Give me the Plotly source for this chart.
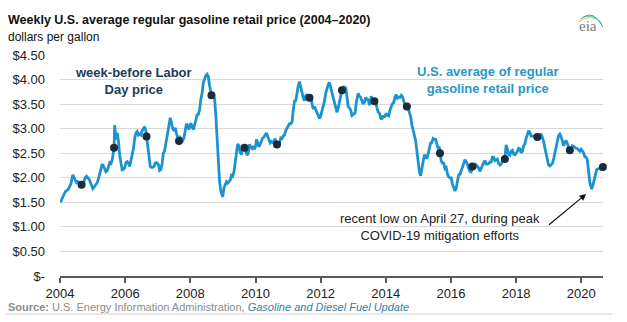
import plotly.graph_objects as go
import pandas as pd

# ---- data: weekly U.S. regular gasoline retail price, $/gal ----
gas_2004 = [("01-05",1.50),("01-19",1.57),("02-02",1.61),("02-16",1.66),("03-01",1.72),("03-15",1.74),
            ("04-01",1.76),("04-15",1.81),("05-03",1.88),("05-17",2.01),("05-24",2.06),("06-07",2.00),
            ("06-21",1.93),("07-05",1.90),("07-19",1.92),("08-02",1.89),("08-16",1.87),("09-13",1.86),
            ("09-27",1.93),("10-11",2.01),("10-25",2.03),("11-08",2.00),("11-22",1.97),("12-06",1.91),("12-20",1.83)]
gas_2005 = [("01-03",1.78),("01-17",1.81),("02-07",1.88),("02-21",1.90),("03-07",1.98),("03-21",2.09),
            ("04-04",2.22),("04-18",2.28),("05-02",2.24),("05-16",2.17),("05-30",2.12),("06-13",2.14),
            ("06-27",2.24),("07-11",2.31),("07-25",2.29),("08-08",2.36),("08-22",2.52),("09-05",3.07),
            ("09-12",2.96),("09-19",2.79),("09-26",2.80),("10-03",2.92),("10-17",2.75),("10-31",2.46),
            ("11-14",2.30),("11-28",2.16),("12-12",2.17),("12-26",2.20)]
gas_2006 = [("01-09",2.31),("01-23",2.33),("02-06",2.30),("02-20",2.23),("03-06",2.35),("03-20",2.46),
            ("04-03",2.59),("04-17",2.80),("05-01",2.91),("05-15",2.94),("05-29",2.87),("06-12",2.89),
            ("06-26",2.87),("07-10",2.96),("07-24",3.00),("08-07",3.04),("08-21",2.95),("09-11",2.60),
            ("09-25",2.38),("10-09",2.23),("10-23",2.21),("11-06",2.21),("11-20",2.23),("12-04",2.30),("12-18",2.31)]
gas_2007 = [("01-08",2.27),("01-22",2.15),("02-05",2.17),("02-19",2.29),("03-05",2.50),("03-19",2.55),
            ("04-02",2.71),("04-16",2.87),("04-30",2.97),("05-14",3.10),("05-21",3.22),("06-04",3.12),
            ("06-18",3.00),("07-02",2.96),("07-16",3.02),("07-30",2.90),("08-13",2.80),("09-10",2.82),
            ("09-24",2.79),("10-08",2.76),("10-22",2.82),("11-05",3.00),("11-19",3.10),("12-03",3.06),("12-17",2.98)]
gas_2008 = [("01-07",3.11),("01-21",3.02),("02-04",2.98),("02-18",3.07),("03-03",3.17),("03-17",3.28),
            ("03-31",3.29),("04-14",3.39),("04-28",3.60),("05-12",3.72),("05-26",3.94),("06-09",4.04),
            ("06-23",4.08),("07-07",4.11),("07-21",4.06),("08-04",3.88),("08-18",3.73),("09-08",3.67),
            ("09-29",3.62),("10-13",3.27),("10-27",2.71),("11-10",2.22),("11-24",1.92),("12-08",1.73),("12-29",1.61)]
gas_2009 = [("01-12",1.79),("01-26",1.86),("02-09",1.92),("02-23",1.89),("03-09",1.93),("03-23",1.95),
            ("04-06",2.05),("04-20",2.03),("05-04",2.12),("05-18",2.35),("06-01",2.51),("06-15",2.69),
            ("06-29",2.65),("07-13",2.52),("07-27",2.47),("08-10",2.65),("08-24",2.62),("09-14",2.54),
            ("09-28",2.46),("10-12",2.50),("10-26",2.68),("11-09",2.63),("11-23",2.60),("12-07",2.64),("12-21",2.58)]
gas_2010 = [("01-04",2.66),("01-11",2.78),("01-25",2.72),("02-08",2.63),("02-22",2.68),("03-08",2.75),
            ("03-22",2.81),("04-05",2.83),("04-19",2.86),("05-03",2.91),("05-17",2.85),("05-31",2.76),
            ("06-14",2.71),("06-28",2.74),("07-12",2.72),("07-26",2.74),("08-09",2.80),("08-23",2.70),
            ("09-13",2.71),("09-27",2.70),("10-11",2.81),("10-25",2.80),("11-08",2.85),("11-22",2.87),
            ("12-06",2.96),("12-20",3.01)]
gas_2011 = [("01-03",3.06),("01-17",3.10),("01-31",3.10),("02-14",3.13),("02-28",3.37),("03-14",3.56),
            ("03-28",3.57),("04-11",3.77),("04-25",3.87),("05-09",3.96),("05-23",3.82),("06-06",3.74),
            ("06-20",3.63),("07-04",3.57),("07-18",3.67),("08-01",3.70),("08-15",3.59),("09-12",3.66),
            ("09-26",3.51),("10-10",3.40),("10-24",3.45),("11-07",3.39),("11-21",3.31),("12-05",3.27),("12-19",3.21)]
gas_2012 = [("01-02",3.26),("01-16",3.37),("01-30",3.43),("02-13",3.56),("02-27",3.72),("03-12",3.83),
            ("03-26",3.90),("04-09",3.94),("04-23",3.84),("05-07",3.76),("05-21",3.67),("06-04",3.56),
            ("06-18",3.45),("07-02",3.33),("07-16",3.42),("07-30",3.54),("08-13",3.70),("09-10",3.84),
            ("09-17",3.87),("10-01",3.79),("10-08",3.85),("10-22",3.66),("11-05",3.45),("11-19",3.42),
            ("12-03",3.38),("12-17",3.27)]
gas_2013 = [("01-07",3.30),("01-21",3.32),("02-04",3.53),("02-18",3.70),("02-25",3.72),("03-11",3.66),
            ("03-25",3.64),("04-08",3.57),("04-22",3.50),("05-06",3.54),("05-20",3.63),("06-03",3.60),
            ("06-17",3.59),("07-01",3.48),("07-15",3.64),("07-22",3.66),("08-05",3.59),("08-19",3.53),
            ("09-09",3.56),("09-23",3.43),("10-07",3.34),("10-21",3.32),("11-04",3.22),("11-18",3.19),
            ("12-02",3.27),("12-16",3.23)]
gas_2014 = [("01-06",3.31),("01-20",3.27),("02-03",3.26),("02-17",3.38),("03-03",3.44),("03-17",3.51),
            ("03-31",3.53),("04-14",3.65),("04-28",3.69),("05-12",3.62),("05-26",3.64),("06-09",3.64),
            ("06-23",3.68),("07-07",3.65),("07-21",3.56),("08-04",3.50),("08-18",3.43),("09-08",3.43),
            ("09-22",3.33),("10-06",3.25),("10-20",3.08),("11-03",2.97),("11-17",2.84),("12-01",2.76),
            ("12-15",2.55),("12-29",2.30)]
gas_2015 = [("01-12",2.13),("01-26",2.04),("02-09",2.18),("02-23",2.31),("03-09",2.47),("03-23",2.42),
            ("04-06",2.39),("04-20",2.48),("05-04",2.63),("05-18",2.71),("06-01",2.72),("06-15",2.80),
            ("06-29",2.78),("07-13",2.78),("07-27",2.69),("08-10",2.61),("08-24",2.63),("09-14",2.34),
            ("09-28",2.30),("10-12",2.30),("10-26",2.19),("11-09",2.21),("11-23",2.08),("12-07",2.02),("12-21",2.00)]
gas_2016 = [("01-04",2.00),("01-18",1.87),("02-01",1.81),("02-15",1.73),("02-29",1.79),("03-14",1.96),
            ("03-28",2.06),("04-11",2.07),("04-25",2.16),("05-09",2.22),("05-23",2.29),("06-06",2.37),
            ("06-20",2.33),("07-04",2.28),("07-18",2.19),("08-01",2.13),("08-15",2.12),("09-12",2.19),
            ("09-26",2.20),("10-10",2.26),("10-24",2.23),("11-07",2.20),("11-21",2.13),("12-05",2.20),("12-19",2.25)]
gas_2017 = [("01-02",2.31),("01-16",2.35),("01-30",2.28),("02-13",2.28),("02-27",2.29),("03-13",2.32),
            ("03-27",2.32),("04-10",2.42),("04-24",2.42),("05-08",2.35),("05-22",2.37),("06-05",2.38),
            ("06-19",2.29),("07-03",2.26),("07-17",2.28),("07-31",2.35),("08-14",2.39),("09-04",2.65),
            ("09-11",2.67),("09-25",2.58),("10-09",2.48),("10-23",2.46),("11-06",2.54),("11-20",2.56),
            ("12-04",2.48),("12-18",2.47)]
gas_2018 = [("01-01",2.50),("01-15",2.54),("01-29",2.60),("02-12",2.59),("02-26",2.51),("03-12",2.54),
            ("03-26",2.65),("04-09",2.69),("04-23",2.80),("05-07",2.87),("05-21",2.96),("06-04",2.92),
            ("06-18",2.85),("07-02",2.85),("07-16",2.85),("07-30",2.83),("08-13",2.85),("09-10",2.84),
            ("09-24",2.85),("10-08",2.90),("10-22",2.83),("11-05",2.74),("11-19",2.61),("12-03",2.47),
            ("12-17",2.37),("12-31",2.26)]
gas_2019 = [("01-14",2.24),("01-28",2.26),("02-11",2.29),("02-25",2.38),("03-11",2.49),("03-25",2.63),
            ("04-08",2.76),("04-22",2.86),("05-06",2.89),("05-20",2.84),("06-03",2.75),("06-17",2.65),
            ("07-01",2.72),("07-15",2.76),("07-29",2.70),("08-12",2.63),("09-09",2.56),("09-23",2.65),
            ("10-07",2.64),("10-21",2.61),("11-04",2.60),("11-18",2.59),("12-02",2.56),("12-16",2.54),("12-30",2.58)]
gas_2020 = [("01-13",2.55),("01-27",2.51),("02-10",2.43),("02-24",2.42),("03-09",2.37),("03-23",2.13),
            ("04-06",1.91),("04-20",1.81),("04-27",1.77),("05-11",1.85),("05-25",1.96),("06-08",2.09),
            ("06-22",2.17),("07-06",2.18),("07-20",2.19),("08-03",2.18),("08-17",2.17)]

# week-before Labor Day prices
labor_dates = ["2004-08-30","2005-08-29","2006-08-28","2007-08-27","2008-08-25","2009-08-31",
               "2010-08-30","2011-08-29","2012-08-27","2013-08-26","2014-08-25","2015-08-31",
               "2016-08-29","2017-08-28","2018-08-27","2019-08-26","2020-08-31"]
labor_prices = [1.86, 2.61, 2.84, 2.75, 3.68, 2.61, 2.68, 3.63, 3.78, 3.56, 3.45, 2.50,
                2.23, 2.38, 2.83, 2.56, 2.22]

y_tickvals = [0, 0.5, 1.0, 1.5, 2.0, 2.5, 3.0, 3.5, 4.0, 4.5]
y_ticktext = ["$-", "$0.50", "$1.00", "$1.50", "$2.00", "$2.50", "$3.00", "$3.50", "$4.00", "$4.50"]

# ---- assemble weekly line (includes Labor-Day weeks so the dots sit on the line) ----
years = {2004: gas_2004, 2005: gas_2005, 2006: gas_2006, 2007: gas_2007, 2008: gas_2008,
         2009: gas_2009, 2010: gas_2010, 2011: gas_2011, 2012: gas_2012, 2013: gas_2013,
         2014: gas_2014, 2015: gas_2015, 2016: gas_2016, 2017: gas_2017, 2018: gas_2018,
         2019: gas_2019, 2020: gas_2020}
rows = []
for yr, lst in years.items():
    for md, v in lst:
        rows.append((pd.Timestamp(f"{yr}-{md}"), v))
for d, v in zip(labor_dates, labor_prices):
    rows.append((pd.Timestamp(d), v))
df = pd.DataFrame(rows, columns=["date", "price"]).sort_values("date")

LINE = "#1c93d1"
NAVY = "#1a2b3c"
TEAL = "#2a97c4"
FONT = "Liberation Sans, Arial, sans-serif"

fig = go.Figure()
fig.add_trace(go.Scatter(x=df["date"], y=df["price"], mode="lines",
                         line=dict(color=LINE, width=2.8), hoverinfo="skip", showlegend=False))
fig.add_trace(go.Scatter(x=pd.to_datetime(labor_dates), y=labor_prices, mode="markers",
                         marker=dict(color=NAVY, size=8), cliponaxis=False, showlegend=False))

fig.update_layout(
    width=627, height=322,
    margin=dict(l=55, r=24, t=55, b=46),
    paper_bgcolor="white", plot_bgcolor="white",
    font=dict(family=FONT, size=13, color="#222222"),
    showlegend=False,
    xaxis=dict(
        type="date", range=["2004-01-01", "2020-09-01"],
        tick0="2004-01-01", dtick="M24", tickformat="%Y",
        showgrid=False, showline=True, linecolor="#595959", linewidth=1.5,
        ticks="outside", ticklen=5, tickcolor="#595959", tickwidth=1.5,
        tickfont=dict(size=13, color="#222222"), zeroline=False,
    ),
    yaxis=dict(
        range=[0, 4.5], tickvals=y_tickvals, ticktext=y_ticktext,
        showgrid=True, gridcolor="#d9d9d9", gridwidth=1,
        zeroline=False, showline=False, ticks="",
        tickfont=dict(size=13, color="#222222"), ticklabelstandoff=14,
    ),
)

annotations = [
    dict(text="<b>Weekly U.S. average regular gasoline retail price (2004–2020)</b>",
         xref="paper", yref="paper", x=-55/548, y=1 + (55 - 20) / 221, xanchor="left", yanchor="middle",
         showarrow=False, font=dict(size=12.5, color="#111111", family=FONT)),
    dict(text="dollars per gallon", xref="paper", yref="paper", x=-55/548, y=1 + (55 - 37) / 221,
         xanchor="left", yanchor="middle", showarrow=False, font=dict(size=12, color="#111111", family=FONT)),
    dict(text="<b>week-before Labor<br>Day price</b>", xref="paper", yref="paper",
         x=(129 - 55) / 548, y=1 - (81 - 55) / 221, xanchor="center", yanchor="middle",
         showarrow=False, align="center", font=dict(size=13, color="#1f3a56", family=FONT)),
    dict(text="<b>U.S. average of regular<br>gasoline retail price</b>", xref="paper", yref="paper",
         x=(487 - 55) / 548, y=1 - (80 - 55) / 221, xanchor="center", yanchor="middle",
         showarrow=False, align="center", font=dict(size=13, color=TEAL, family=FONT)),
    dict(text="recent low on April 27, during peak<br>COVID-19 mitigation efforts", xref="paper", yref="paper",
         x=(438 - 55) / 548, y=1 - (227 - 55) / 221, xanchor="center", yanchor="middle",
         showarrow=False, align="center", font=dict(size=13, color="#222222", family=FONT)),
    dict(text="", xref="x domain", yref="y domain", x=(586 - 55) / 548, y=1 - (194 - 55) / 221,
         ax=(547 - 55) / 548, ay=1 - (226 - 55) / 221, axref="x domain", ayref="y domain",
         showarrow=True, arrowhead=2, arrowsize=1.1, arrowwidth=1.2, arrowcolor="#111111"),
    dict(text="<b>Source:</b> U.S. Energy Information Administration, "
              "<i><span style='color:#2f7fa6'>Gasoline and Diesel Fuel Update</span></i>",
         xref="paper", yref="paper", x=-55/548, y=1 - (307 - 55) / 221, xanchor="left", yanchor="middle",
         showarrow=False, font=dict(size=11, color="#8c8c8c", family=FONT)),
    dict(text="eia", xref="paper", yref="paper", x=(588 - 55) / 548, y=1 + (55 - 26) / 221,
         xanchor="center", yanchor="middle", showarrow=False,
         font=dict(size=15, color="#7a7a7a", family="Liberation Serif, DejaVu Serif, serif")),
]
fig.update_layout(annotations=annotations)

shapes = [
    dict(type="line", xref="paper", yref="paper", x0=-55/548, x1=(612 - 55) / 548,
         y0=1 - (314 - 55) / 221, y1=1 - (314 - 55) / 221, line=dict(color="#d0d0d0", width=1)),
    dict(type="path", xref="paper", yref="paper",
         path=f"M {(578-55)/548} {1+(55-22)/221} Q {(590-55)/548} {1+(55-13)/221} {(601-55)/548} {1+(55-22)/221}",
         line=dict(color="#c8d86a", width=1)),
    dict(type="path", xref="paper", yref="paper",
         path=f"M {(580-55)/548} {1+(55-19)/221} Q {(592-55)/548} {1+(55-11)/221} {(602-55)/548} {1+(55-24)/221}",
         line=dict(color="#6cc08a", width=1)),
    dict(type="path", xref="paper", yref="paper",
         path=f"M {(583-55)/548} {1+(55-17)/221} Q {(594-55)/548} {1+(55-10)/221} {(603-55)/548} {1+(55-27)/221}",
         line=dict(color="#3a9ad0", width=1)),
]
fig.update_layout(shapes=shapes)

fig.write_html("out.html")
